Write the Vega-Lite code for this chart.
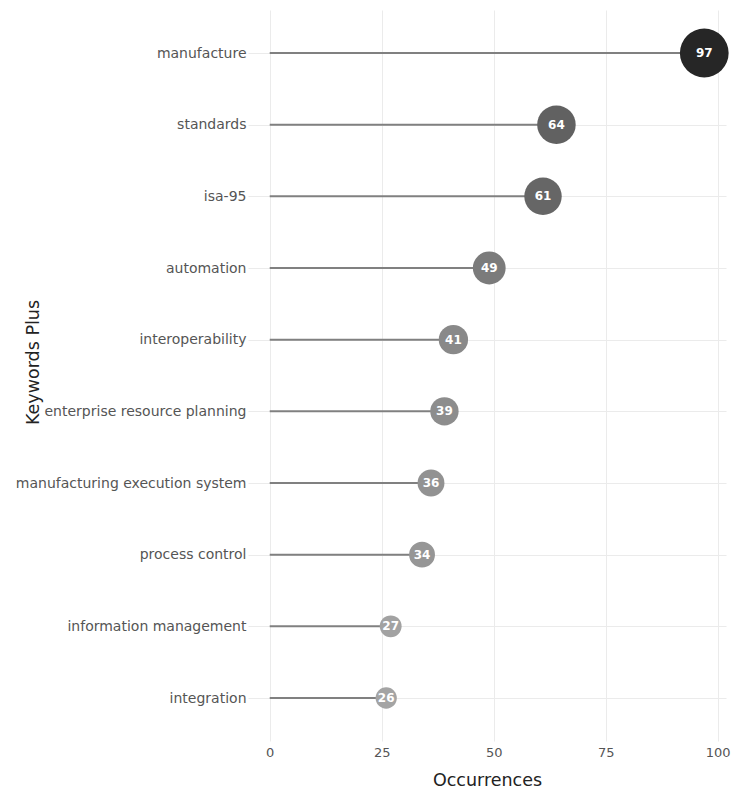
{
  "$schema": "https://vega.github.io/schema/vega-lite/v6.json",
  "autosize": "none",
  "width": 478,
  "height": 731,
  "padding": {"left": 248, "top": 10, "right": 10, "bottom": 49},
  "background": "white",
  "config": {
    "view": {"stroke": null},
    "font": "DejaVu Sans",
    "axis": {
      "grid": true,
      "gridColor": "#ebebeb",
      "gridWidth": 1,
      "domain": false,
      "ticks": false,
      "labelFont": "DejaVu Sans",
      "labelColor": "#555555",
      "labelLimit": 0,
      "titleFont": "DejaVu Sans",
      "titleFontWeight": "normal",
      "titleColor": "#222222"
    }
  },
  "data": {
    "values": [
      {"keyword": "manufacture", "occurrences": 97},
      {"keyword": "standards", "occurrences": 64},
      {"keyword": "isa-95", "occurrences": 61},
      {"keyword": "automation", "occurrences": 49},
      {"keyword": "interoperability", "occurrences": 41},
      {"keyword": "enterprise resource planning", "occurrences": 39},
      {"keyword": "manufacturing execution system", "occurrences": 36},
      {"keyword": "process control", "occurrences": 34},
      {"keyword": "information management", "occurrences": 27},
      {"keyword": "integration", "occurrences": 26}
    ]
  },
  "encoding": {
    "y": {
      "field": "keyword",
      "type": "nominal",
      "sort": {"field": "occurrences", "order": "descending"},
      "scale": {"type": "point", "padding": 0.6},
      "axis": {
        "title": "Keywords Plus",
        "labelFontSize": 14,
        "labelPadding": 2,
        "titleFontSize": 17.5,
        "titleAngle": -90,
        "titleAlign": "center",
        "titleBaseline": "alphabetic",
        "titleX": -210,
        "titleY": 352
      }
    },
    "x": {
      "field": "occurrences",
      "type": "quantitative",
      "scale": {"domain": [-4.85, 101.85], "nice": false, "zero": false},
      "axis": {
        "title": "Occurrences",
        "values": [0, 25, 50, 75, 100],
        "labelFontSize": 13,
        "labelPadding": 5,
        "titleFontSize": 17.5,
        "titlePadding": 12
      }
    }
  },
  "layer": [
    {
      "mark": {"type": "rule", "color": "#808080", "strokeWidth": 2},
      "encoding": {"x2": {"datum": 0}}
    },
    {
      "mark": {"type": "circle", "opacity": 1},
      "encoding": {
        "size": {
          "field": "occurrences",
          "type": "quantitative",
          "scale": {"domain": [26, 97], "range": [452, 2376], "zero": false},
          "legend": null
        },
        "color": {
          "field": "occurrences",
          "type": "quantitative",
          "scale": {"domain": [26, 97], "range": ["#a4a4a4", "#262626"], "interpolate": "rgb"},
          "legend": null
        }
      }
    },
    {
      "mark": {"type": "text", "color": "white", "fontWeight": "bold", "fontSize": 12, "font": "DejaVu Sans"},
      "encoding": {"text": {"field": "occurrences", "type": "quantitative"}}
    }
  ]
}
